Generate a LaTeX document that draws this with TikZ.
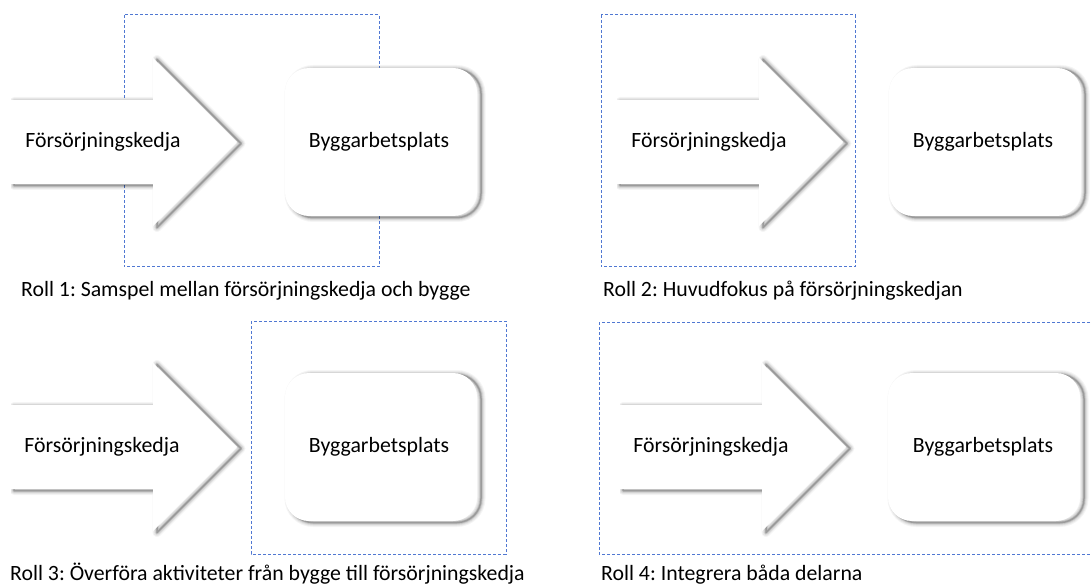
\documentclass[tikz,border=0pt]{standalone}
\usepackage{fontspec}
\setmainfont{Carlito}
\frenchspacing

% right-pointing arrow, coordinates relative to its tip
\newcommand{\arrowpath}{(-227,-42) -- (-84,-42) -- (-84,-84) -- (0,0) -- (-84,84) -- (-84,42) -- (-227,42) -- cycle}
% rounded box, coordinates relative to its top-left corner
\newcommand{\boxpath}{(96,0) [rounded corners=24bp] -- (192,0) -- (192,148) -- (0,148) -- (0,0) -- cycle}

% soft grey shadow under a white shape
\newcommand{\softshape}[1]{%
  \begin{scope}
    \clip (-226,-200) rectangle (400,200);
    \foreach \w/\o in {9/0.04,7/0.05,5/0.08,3/0.12,1.5/0.18}{
      \draw[shift={(4,1.5)}, line width=\w bp, black, opacity=\o, line join=round] #1;}
  \end{scope}
  \fill[white] #1;}

\begin{document}
\begin{tikzpicture}[x=1bp,y=-1bp,
  frame/.style={draw={rgb,255:red,80;green,120;blue,210}, line width=1bp, dash pattern=on 3bp off 2bp},
  shapetext/.style={font=\fontsize{21.8bp}{26bp}\selectfont, inner sep=0pt},
  captext/.style={font=\fontsize{21.8bp}{26bp}\selectfont, inner sep=0pt, anchor=base west},
]
\useasboundingbox (0,0) rectangle (1092,585);

% ---------- dashed frames ----------
\draw[frame] (124,15) rectangle (379,267);
\draw[frame] (601,15) rectangle (855,267);
\draw[frame] (251,321) rectangle (506,554);
\draw[frame] (599,322) rectangle (1100,554);

% ---------- panel 1 ----------
\begin{scope}[shift={(237,142)}] \softshape{\arrowpath} \end{scope}
\begin{scope}[shift={(285,68)}] \softshape{\boxpath} \end{scope}
\node[shapetext] (a1) at (103,142) {Försörjningskedja};
\node[shapetext] (b1) at (379,142) {Byggarbetsplats};
\node[captext] (c1) at (21,297) {Roll 1: Samspel mellan försörjningskedja och bygge};

% ---------- panel 2 ----------
\begin{scope}[shift={(843,142)}] \softshape{\arrowpath} \end{scope}
\begin{scope}[shift={(889,68)}] \softshape{\boxpath} \end{scope}
\node[shapetext] (a2) at (709,142) {Försörjningskedja};
\node[shapetext] (b2) at (983,142) {Byggarbetsplats};
\node[captext] (c2) at (603,297) {Roll 2: Huvudfokus på försörjningskedjan};

% ---------- panel 3 ----------
\begin{scope}[shift={(237,447)}] \softshape{\arrowpath} \end{scope}
\begin{scope}[shift={(285,373)}] \softshape{\boxpath} \end{scope}
\node[shapetext] (a3) at (102,447) {Försörjningskedja};
\node[shapetext] (b3) at (379,447) {Byggarbetsplats};
\node[captext] (c3) at (10,580) {Roll 3: Överföra aktiviteter från bygge till försörjningskedja};

% ---------- panel 4 ----------
\begin{scope}[shift={(846,447)}] \softshape{\arrowpath} \end{scope}
\begin{scope}[shift={(888,373)}] \softshape{\boxpath} \end{scope}
\node[shapetext] (a4) at (711,447) {Försörjningskedja};
\node[shapetext] (b4) at (983,447) {Byggarbetsplats};
\node[captext] (c4) at (601,580) {Roll 4: Integrera båda delarna};
\end{tikzpicture}
\end{document}
